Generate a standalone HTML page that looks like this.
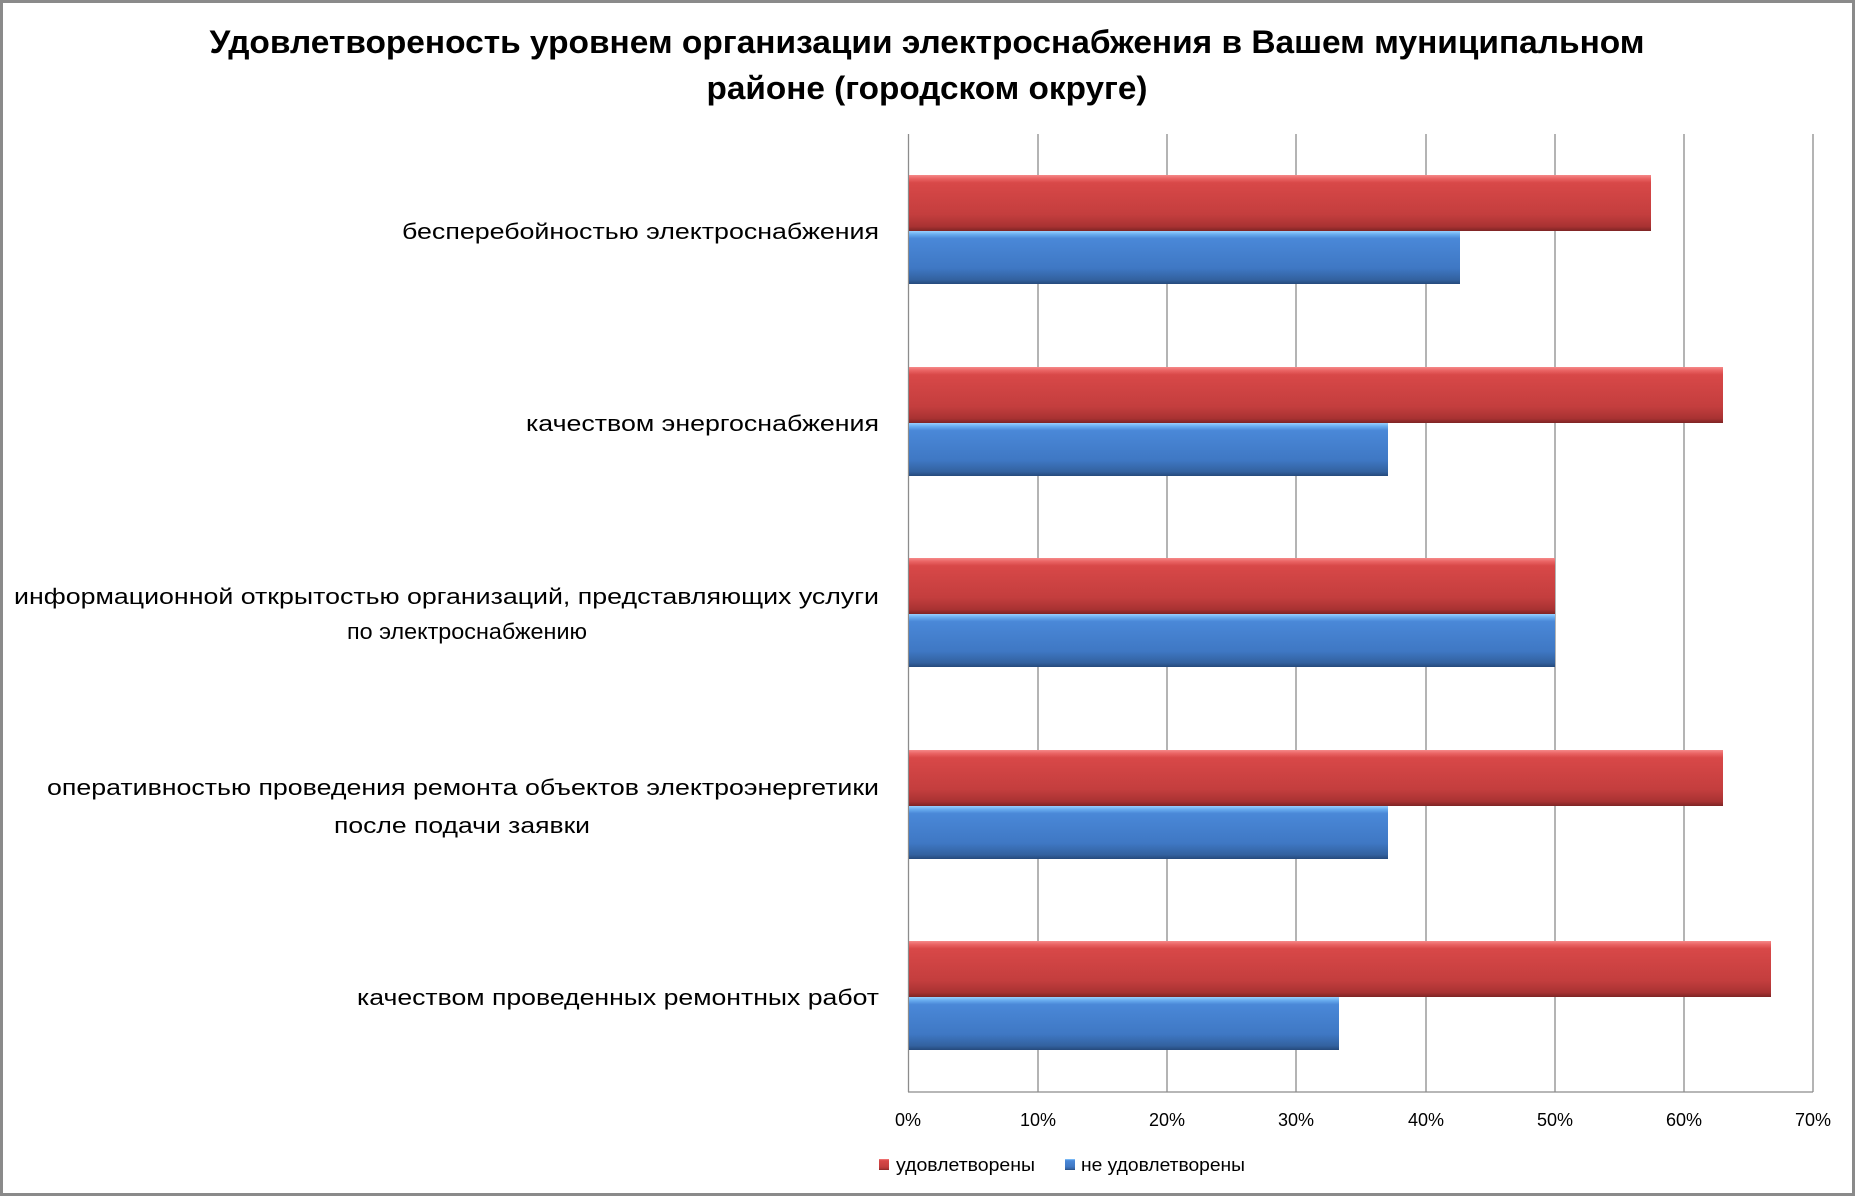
<!DOCTYPE html>
<html><head><meta charset="utf-8"><style>html,body{margin:0;padding:0;background:#fff}svg{display:block}</style></head>
<body>
<svg width="1855" height="1196" viewBox="0 0 1855 1196" xmlns="http://www.w3.org/2000/svg" font-family="'Liberation Sans', sans-serif">
<defs>
<linearGradient id="rg" x1="0" y1="0" x2="0" y2="1">
<stop offset="0" stop-color="#f58a8a"/><stop offset="0.06" stop-color="#ea6464"/><stop offset="0.14" stop-color="#d84848"/>
<stop offset="0.7" stop-color="#c43e3e"/><stop offset="0.92" stop-color="#a83232"/><stop offset="1" stop-color="#7e2424"/>
</linearGradient>
<linearGradient id="bg" x1="0" y1="0" x2="0" y2="1">
<stop offset="0" stop-color="#9ad0ff"/><stop offset="0.06" stop-color="#6aaef0"/><stop offset="0.14" stop-color="#4a88d8"/>
<stop offset="0.7" stop-color="#3f78c4"/><stop offset="0.92" stop-color="#33619f"/><stop offset="1" stop-color="#254a7c"/>
</linearGradient>
</defs>
<rect x="1.5" y="1.5" width="1852" height="1193" fill="#fff" stroke="#8a8a8a" stroke-width="3"/>
<text x="927" y="53" text-anchor="middle" font-size="32" font-weight="bold" textLength="1435" lengthAdjust="spacingAndGlyphs">Удовлетвореность уровнем организации электроснабжения в Вашем муниципальном</text>
<text x="927" y="99" text-anchor="middle" font-size="32" font-weight="bold" textLength="441" lengthAdjust="spacingAndGlyphs">районе (городском округе)</text>
<g stroke="#8c8c8c" stroke-width="1.3">
<line x1="908.5" y1="134" x2="908.5" y2="1092"/><line x1="1038" y1="134" x2="1038" y2="1092"/><line x1="1167" y1="134" x2="1167" y2="1092"/><line x1="1296" y1="134" x2="1296" y2="1092"/><line x1="1426" y1="134" x2="1426" y2="1092"/><line x1="1555" y1="134" x2="1555" y2="1092"/><line x1="1684" y1="134" x2="1684" y2="1092"/><line x1="1813" y1="134" x2="1813" y2="1092"/>
<line x1="908" y1="1092" x2="1813" y2="1092"/>
</g>
<g>
<rect x="909" y="175" width="742" height="56" fill="url(#rg)"/><rect x="909" y="231" width="551" height="53" fill="url(#bg)"/>
<rect x="909" y="367" width="814" height="56" fill="url(#rg)"/><rect x="909" y="423" width="479" height="53" fill="url(#bg)"/>
<rect x="909" y="558" width="646" height="56" fill="url(#rg)"/><rect x="909" y="614" width="646" height="53" fill="url(#bg)"/>
<rect x="909" y="750" width="814" height="56" fill="url(#rg)"/><rect x="909" y="806" width="479" height="53" fill="url(#bg)"/>
<rect x="909" y="941" width="862" height="56" fill="url(#rg)"/><rect x="909" y="997" width="430" height="53" fill="url(#bg)"/>
</g>
<g font-size="22" text-anchor="end" fill="#000">
<text x="879" y="239" textLength="477" lengthAdjust="spacingAndGlyphs">бесперебойностью  электроснабжения</text>
<text x="879" y="431" textLength="353" lengthAdjust="spacingAndGlyphs">качеством энергоснабжения</text>
<text x="879" y="604" textLength="865" lengthAdjust="spacingAndGlyphs">информационной открытостью организаций, представляющих услуги</text>
<text x="587" y="639" textLength="240" lengthAdjust="spacingAndGlyphs">по электроснабжению</text>
<text x="879" y="795" textLength="832" lengthAdjust="spacingAndGlyphs">оперативностью проведения ремонта объектов электроэнергетики</text>
<text x="590" y="833" textLength="256" lengthAdjust="spacingAndGlyphs">после подачи заявки</text>
<text x="879" y="1005" textLength="522" lengthAdjust="spacingAndGlyphs">качеством проведенных ремонтных работ</text>
</g>
<g font-size="18" text-anchor="middle" fill="#000">
<text x="908" y="1126">0%</text><text x="1038" y="1126">10%</text><text x="1167" y="1126">20%</text><text x="1296" y="1126">30%</text><text x="1426" y="1126">40%</text><text x="1555" y="1126">50%</text><text x="1684" y="1126">60%</text><text x="1813" y="1126">70%</text>
</g>
<rect x="879" y="1159" width="10" height="11" fill="url(#rg)"/>
<text x="896" y="1171" font-size="18" textLength="139" lengthAdjust="spacingAndGlyphs">удовлетворены</text>
<rect x="1065" y="1159" width="10" height="11" fill="url(#bg)"/>
<text x="1081" y="1171" font-size="18" textLength="164" lengthAdjust="spacingAndGlyphs">не удовлетворены</text>
</svg>
</body></html>
